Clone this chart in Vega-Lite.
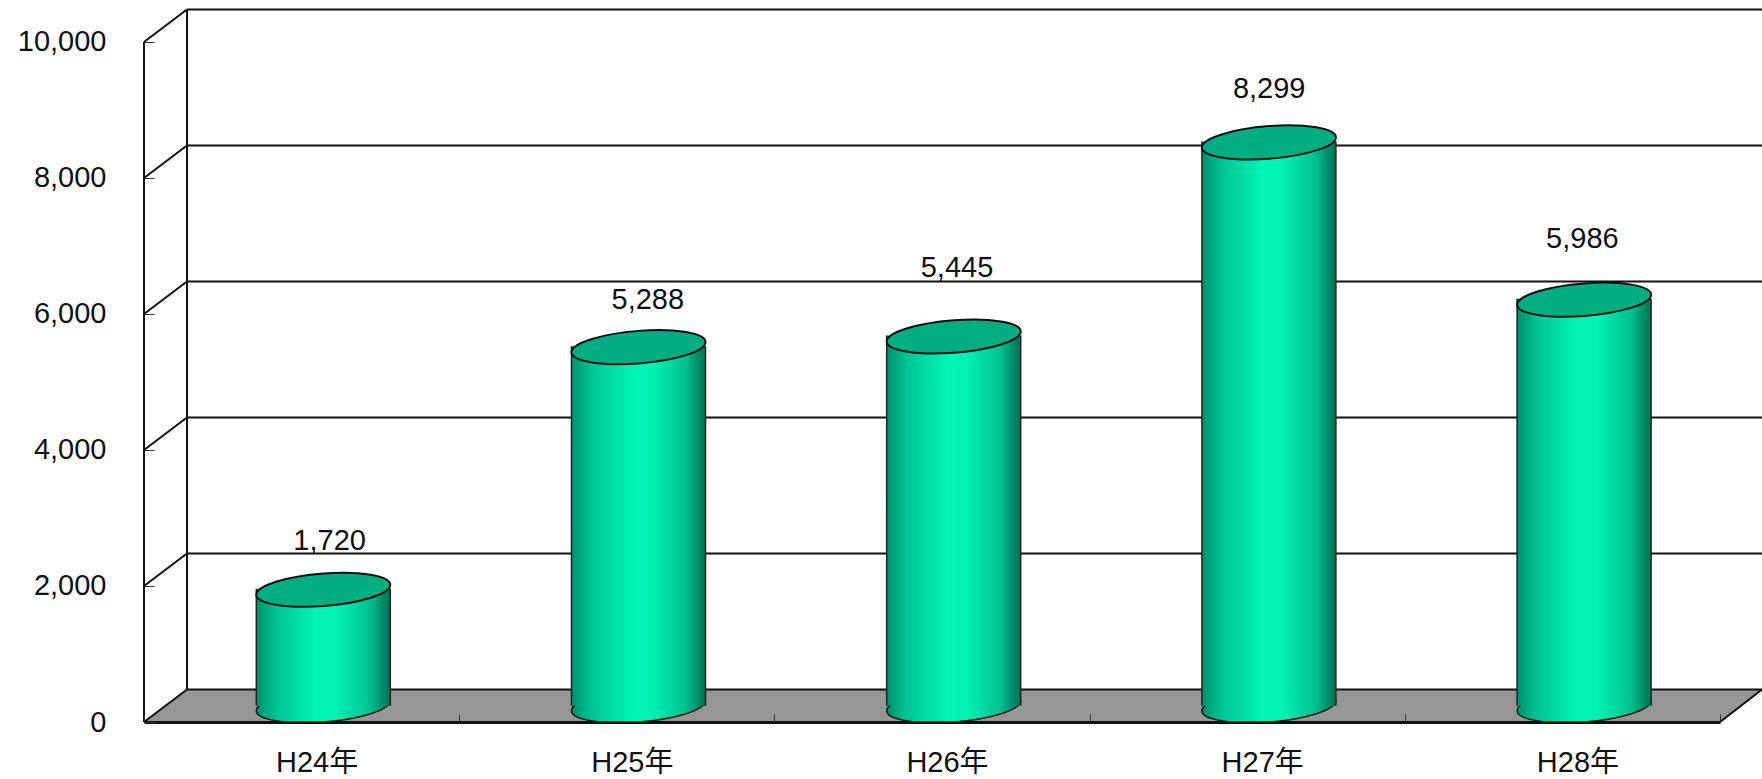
{"$schema":"https://vega.github.io/schema/vega-lite/v6.json","width":1618,"height":713,"autosize":{"type":"none"},"padding":{"left":144,"top":9,"right":0,"bottom":57},"background":"white",
"config":{"view":{"stroke":null}},
"datasets":{"cyl":[{"year":"H24年","value":1720},{"year":"H25年","value":5288},{"year":"H26年","value":5445},{"year":"H27年","value":8299},{"year":"H28年","value":5986}],
"floor":[{"d":0,"lo":0,"hi":0},{"d":0.1364,"lo":0,"hi":478},{"d":5,"lo":0,"hi":478},{"d":5.1332,"lo":478,"hi":478}],
"frame":[
{"line":"front","d":0,"v":0},{"line":"front","d":0,"v":10000},
{"line":"back","d":0.1364,"v":478},{"line":"back","d":0.1364,"v":10478},
{"line":"b0","d":0.1364,"v":478},{"line":"b0","d":5.1332,"v":478},
{"line":"b2","d":0.1364,"v":2478},{"line":"b2","d":5.1332,"v":2478},
{"line":"b4","d":0.1364,"v":4478},{"line":"b4","d":5.1332,"v":4478},
{"line":"b6","d":0.1364,"v":6478},{"line":"b6","d":5.1332,"v":6478},
{"line":"b8","d":0.1364,"v":8478},{"line":"b8","d":5.1332,"v":8478},
{"line":"b10","d":0.1364,"v":10478},{"line":"b10","d":5.1332,"v":10478},
{"line":"s0","d":0,"v":0},{"line":"s0","d":0.1364,"v":478},
{"line":"s2","d":0,"v":2000},{"line":"s2","d":0.1364,"v":2478},
{"line":"s4","d":0,"v":4000},{"line":"s4","d":0.1364,"v":4478},
{"line":"s6","d":0,"v":6000},{"line":"s6","d":0.1364,"v":6478},
{"line":"s8","d":0,"v":8000},{"line":"s8","d":0.1364,"v":8478},
{"line":"s10","d":0,"v":10000},{"line":"s10","d":0.1364,"v":10478},
{"line":"r","d":5,"v":0},{"line":"r","d":5.1332,"v":478}]},
"resolve":{"scale":{"x":"independent"},"axis":{"x":"independent"}},
"layer":[
{"data":{"name":"floor"},"mark":{"type":"area","fill":"#969696","opacity":1},
"encoding":{"x":{"field":"d","type":"quantitative","scale":{"domain":[0,5.1332],"nice":false,"zero":false},"axis":null},
"y":{"field":"lo","type":"quantitative","scale":{"domain":[0,10485],"nice":false},"axis":{"title":null,"values":[0,2000,4000,6000,8000,10000],"labelExpr":"format(datum.value, ',')","domain":false,"grid":false,"orient":"left","tickSize":-10,"tickColor":"#333","tickWidth":1,"zindex":1,"labelFont":"Liberation Sans","labelFontSize":29,"labelColor":"#111","labelPadding":48}},
"y2":{"field":"hi"}}},
{"data":{"name":"frame"},"mark":{"type":"line","stroke":"#111","strokeWidth":2},
"encoding":{"x":{"field":"d","type":"quantitative","scale":{"domain":[0,5.1332],"nice":false,"zero":false},"axis":null},"y":{"field":"v","type":"quantitative"},"detail":{"field":"line"}}},
{"data":{"name":"cyl"},
"layer":[
{"mark":{"type":"point","shape":"M1,-0.075C1,0.0592 0.5523,0.2016 0,0.243C-0.5523,0.2844 -1,0.2092 -1,0.075C-1,-0.0592 -0.5523,-0.2016 0,-0.243C0.5523,-0.2844 1,-0.2092 1,-0.075Z","filled":true,"size":17956,"opacity":1,"xOffset":21.7,"yOffset":-16.25,"stroke":"#111","strokeWidth":1.5,"fill":{"gradient":"linear","x1":0,"x2":1,"y1":0,"y2":0,"stops":[{"offset":0,"color":"#00906a"},{"offset":0.15,"color":"#00c495"},{"offset":0.45,"color":"#00f5b5"},{"offset":0.6,"color":"#00f2b2"},{"offset":0.85,"color":"#00c090"},{"offset":1,"color":"#006f52"}]}},
"encoding":{"x":{"field":"year","type":"nominal","sort":null,"title":null,"scale":{"domain":["H24年","H25年","H26年","H27年","H28年"],"range":[0,1576],"paddingInner":0,"paddingOuter":0},
"axis":{"title":null,"zindex":1,"domainColor":"#111","domainWidth":3,"tickColor":"#333","tickWidth":1,"tickSize":-8,"tickBand":"extent","labelAngle":0,"labelFont":"Liberation Sans, Noto Sans CJK JP","labelFontSize":29,"labelColor":"#111","labelOffset":15,"labelPadding":48,"labelBaseline":"middle"}},
"y":{"datum":0,"type":"quantitative"}}},
{"mark":{"type":"bar","width":134,"xOffset":21.7,"yOffset":-16.25,"y2Offset":-16.25,"fill":{"gradient":"linear","x1":0,"x2":1,"y1":0,"y2":0,"stops":[{"offset":0,"color":"#00906a"},{"offset":0.15,"color":"#00c495"},{"offset":0.45,"color":"#00f5b5"},{"offset":0.6,"color":"#00f2b2"},{"offset":0.85,"color":"#00c090"},{"offset":1,"color":"#006f52"}]}},
"encoding":{"x":{"field":"year","type":"nominal","sort":null},"y":{"field":"value","type":"quantitative"},"y2":{"datum":0}}},
{"mark":{"type":"rule","stroke":"#222","strokeWidth":1.5,"xOffset":-45.3,"yOffset":-16.25,"y2Offset":-16.25},
"encoding":{"x":{"field":"year","type":"nominal","sort":null},"y":{"field":"value","type":"quantitative"},"y2":{"datum":0}}},
{"mark":{"type":"rule","stroke":"#222","strokeWidth":1.5,"xOffset":88.7,"yOffset":-16.25,"y2Offset":-16.25},
"encoding":{"x":{"field":"year","type":"nominal","sort":null},"y":{"field":"value","type":"quantitative"},"y2":{"datum":0}}},
{"mark":{"type":"point","shape":"M1,-0.075C1,0.0592 0.5523,0.2016 0,0.243C-0.5523,0.2844 -1,0.2092 -1,0.075C-1,-0.0592 -0.5523,-0.2016 0,-0.243C0.5523,-0.2844 1,-0.2092 1,-0.075Z","filled":true,"size":17956,"opacity":1,"xOffset":21.7,"yOffset":-15.25,"stroke":"#111","strokeWidth":2,"fill":"#00AE82"},
"encoding":{"x":{"field":"year","type":"nominal","sort":null},"y":{"field":"value","type":"quantitative"}}},
{"transform":[{"filter":"datum.year==='H24年'"}],"mark":{"type":"text","fontSize":29,"font":"Liberation Sans","fill":"#111","baseline":"middle","dx":28,"dy":-64},"encoding":{"x":{"field":"year","type":"nominal","sort":null},"y":{"field":"value","type":"quantitative"},"text":{"field":"value","format":","}}},
{"transform":[{"filter":"datum.year==='H25年'"}],"mark":{"type":"text","fontSize":29,"font":"Liberation Sans","fill":"#111","baseline":"middle","dx":31,"dy":-62},"encoding":{"x":{"field":"year","type":"nominal","sort":null},"y":{"field":"value","type":"quantitative"},"text":{"field":"value","format":","}}},
{"transform":[{"filter":"datum.year==='H26年'"}],"mark":{"type":"text","fontSize":29,"font":"Liberation Sans","fill":"#111","baseline":"middle","dx":25,"dy":-84},"encoding":{"x":{"field":"year","type":"nominal","sort":null},"y":{"field":"value","type":"quantitative"},"text":{"field":"value","format":","}}},
{"transform":[{"filter":"datum.year==='H27年'"}],"mark":{"type":"text","fontSize":29,"font":"Liberation Sans","fill":"#111","baseline":"middle","dx":22,"dy":-69},"encoding":{"x":{"field":"year","type":"nominal","sort":null},"y":{"field":"value","type":"quantitative"},"text":{"field":"value","format":","}}},
{"transform":[{"filter":"datum.year==='H28年'"}],"mark":{"type":"text","fontSize":29,"font":"Liberation Sans","fill":"#111","baseline":"middle","dx":20,"dy":-76},"encoding":{"x":{"field":"year","type":"nominal","sort":null},"y":{"field":"value","type":"quantitative"},"text":{"field":"value","format":","}}}
]}
]}
